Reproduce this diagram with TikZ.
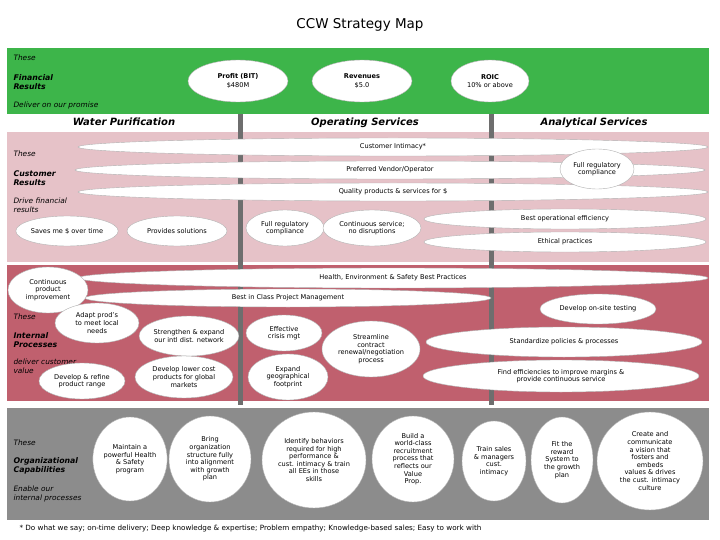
\documentclass[tikz,border=0pt]{standalone}
\usepackage{fontspec}
\setmainfont{DejaVu Sans}
\usetikzlibrary{shapes.geometric}
\definecolor{fin}{HTML}{3DB54A}
\definecolor{cust}{HTML}{E6C2C8}
\definecolor{intp}{HTML}{C0606E}
\definecolor{org}{HTML}{8C8C8C}
\definecolor{vline}{HTML}{6E6E6E}
\begin{document}
\begin{tikzpicture}[x=1pt,y=-1pt,
  ov/.style={ellipse,fill=white,draw=gray!60,line width=0.4pt,inner sep=0pt,align=center,font=\fontsize{6.6}{7.6}\selectfont},
  lab/.style={anchor=west,align=left,font=\fontsize{7.4}{9}\selectfont\itshape},
  labb/.style={anchor=west,align=left,font=\fontsize{7.8}{9.5}\selectfont\bfseries\itshape},
  hd/.style={font=\fontsize{10}{12}\selectfont\bfseries\itshape}]
\useasboundingbox (0,0) rectangle (720,540);
\fill[white] (0,0) rectangle (720,540);
\node (title) at (360,25) {\fontsize{13.5}{16}\selectfont CCW Strategy Map};
\fill[fin] (7,48) rectangle (709,114);
\fill[cust] (7,132) rectangle (709,262);
\fill[intp] (7,265) rectangle (709,401);
\fill[org] (7,408) rectangle (709,520);
\fill[vline] (238,114) rectangle (243,405);
\fill[vline] (489,114) rectangle (494,405);
% financial
\node[lab] (f1) at (10,58) {These};
\node[labb] (f2) at (10,82) {Financial\\Results};
\node[lab] (f3) at (10,105) {Deliver on our promise};
\node[ov,minimum width=100,minimum height=42] (p) at (238,81) {\textbf{Profit (BIT)}\\[1pt]\$480M};
\node[ov,minimum width=100,minimum height=42] (r) at (362,81) {\textbf{Revenues}\\[1pt]\$5.0};
\node[ov,minimum width=78,minimum height=42] (roic) at (490,81) {\textbf{ROIC}\\[1pt]10\% or above};
\node[hd] (h1) at (124,122) {Water Purification};
\node[hd] (h2) at (365,123) {Operating Services};
\node[hd] (h3) at (594,123) {Analytical Services};
% customer
\node[lab] (c1) at (10,154) {These};
\node[labb] (c2) at (10,178) {Customer\\Results};
\node[lab] (c3) at (10,205) {Drive financial\\results};
\node[ov,minimum width=630,minimum height=18] (ci) at (393,147) {Customer Intimacy*};
\node[ov,minimum width=630,minimum height=18] (pv) at (390,170) {Preferred Vendor/Operator};
\node[ov,minimum width=630,minimum height=18] (q) at (393,192) {Quality products \& services for \$};
\node[ov,minimum width=74,minimum height=40] (frc) at (597,169) {Full regulatory\\compliance};
\node[ov,minimum width=98,minimum height=30] (sm) at (67,231) {Saves me \$ over time};
\node[ov,minimum width=100,minimum height=30] (ps) at (177,231) {Provides solutions};
\node[ov,minimum width=78,minimum height=36] (fr2) at (285,228) {Full regulatory\\compliance};
\node[ov,minimum width=98,minimum height=36] (cs) at (372,228) {Continuous service;\\no disruptions};
\node[ov,minimum width=282,minimum height=20] (boe) at (565,219) {Best operational efficiency};
\node[ov,minimum width=282,minimum height=20] (eth) at (565,242) {Ethical practices};
% internal
\node[lab] (i1) at (10,317) {These};
\node[labb] (i2) at (10,340) {Internal\\Processes};
\node[lab] (i3) at (10,366) {deliver customer\\value};
\node[ov,minimum width=630,minimum height=20] (hes) at (393,278) {Health, Environment \& Safety Best Practices};
\node[ov,minimum width=406,minimum height=18] (bic) at (288,298) {Best in Class Project Management};
\node[ov,minimum width=80,minimum height=46] (cpi) at (48,290) {Continuous\\product\\improvement};
\node[ov,minimum width=116,minimum height=30] (dot) at (598,309) {Develop on-site testing};
\node[ov,minimum width=84,minimum height=40] (ap) at (97,323) {Adapt prod's\\to meet local\\needs};
\node[ov,minimum width=98,minimum height=40] (se) at (189,336) {Strengthen \& expand\\our intl dist. network};
\node[ov,minimum width=76,minimum height=36] (ec) at (284,333) {Effective\\crisis mgt};
\node[ov,minimum width=98,minimum height=56] (sc) at (371,349) {Streamline\\contract\\renewal/negotiation\\process};
\node[ov,minimum width=276,minimum height=30] (sp) at (564,342) {Standardize policies \& processes};
\node[ov,minimum width=276,minimum height=32] (fe) at (561,376) {Find efficiencies to improve margins \&\\provide continuous service};
\node[ov,minimum width=86,minimum height=36] (dr) at (82,381) {Develop \& refine\\product range};
\node[ov,minimum width=98,minimum height=42] (dl) at (184,377) {Develop lower cost\\products for global\\markets};
\node[ov,minimum width=80,minimum height=46] (eg) at (288,377) {Expand\\geographical\\footprint};
% org
\node[lab] (o1) at (10,443) {These};
\node[labb] (o2) at (10,466) {Organizational\\Capabilities};
\node[lab] (o3) at (10,494) {Enable our\\internal processes};
\node[ov,minimum width=70,minimum height=84] (m) at (130,459) {Maintain a\\powerful Health\\\& Safety\\program};
\node[ov,minimum width=82,minimum height=86] (b) at (210,459) {Bring\\organization\\structure fully\\into alignment\\with growth\\plan};
\node[ov,minimum width=104,minimum height=96] (id) at (314,460) {Identify behaviors\\required for high\\performance \&\\cust. intimacy \& train\\all EEs in those\\skills};
\node[ov,minimum width=82,minimum height=86] (bw) at (413,459) {Build a\\world-class\\recruitment\\process that\\reflects our\\Value\\Prop.};
\node[ov,minimum width=64,minimum height=80] (ts) at (494,461) {Train sales\\\& managers\\cust.\\intimacy};
\node[ov,minimum width=62,minimum height=86] (ft) at (562,460) {Fit the\\reward\\System to\\the growth\\plan};
\node[ov,minimum width=106,minimum height=98] (cc) at (650,461) {Create and\\communicate\\a vision that\\fosters and\\embeds\\values \& drives\\the cust. intimacy\\culture};
\node[anchor=west,font=\fontsize{7.2}{8.5}\selectfont] (fn) at (16,529) {* Do what we say; on-time delivery; Deep knowledge \& expertise; Problem empathy; Knowledge-based sales; Easy to work with};
\end{tikzpicture}
\end{document}
